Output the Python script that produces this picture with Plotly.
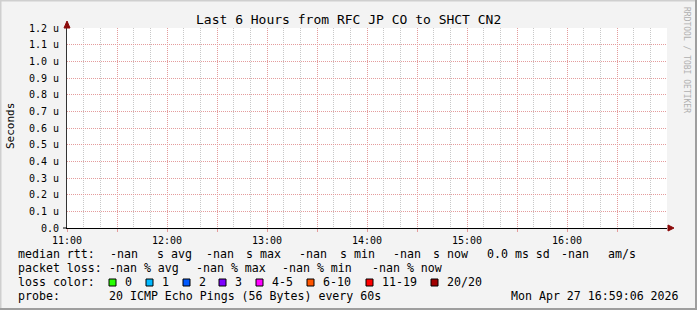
import plotly.graph_objects as go

W, H = 697, 310
L, R, T, B = 67, 30, 28, 82
PW, PH = W - L - R, H - T - B
MONO = "DejaVu Sans Mono"

# ---- data ----
times = ["2026-04-27 11:00:00", "2026-04-27 12:00:00", "2026-04-27 13:00:00",
         "2026-04-27 14:00:00", "2026-04-27 15:00:00", "2026-04-27 16:00:00",
         "2026-04-27 17:00:00"]
median_rtt = [None, None, None, None, None, None, None]
x_range = ["2026-04-27 11:00:00", "2026-04-27 17:00:00"]
x_tick_vals = ["2026-04-27 11:00", "2026-04-27 11:30", "2026-04-27 12:00",
               "2026-04-27 12:30", "2026-04-27 13:00", "2026-04-27 13:30",
               "2026-04-27 14:00", "2026-04-27 14:30", "2026-04-27 15:00",
               "2026-04-27 15:30", "2026-04-27 16:00", "2026-04-27 16:30"]
x_tick_labels = ["11:00", "", "12:00", "", "13:00", "", "14:00", "",
                 "15:00", "", "16:00", ""]
y_range = [0, 1.2e-6]
y_tick_vals = [0, 1e-7, 2e-7, 3e-7, 4e-7, 5e-7, 6e-7, 7e-7, 8e-7, 9e-7,
               1.0e-6, 1.1e-6, 1.2e-6]
y_tick_labels = ["0.0", "0.1 u", "0.2 u", "0.3 u", "0.4 u", "0.5 u", "0.6 u",
                 "0.7 u", "0.8 u", "0.9 u", "1.0 u", "1.1 u", "1.2 u"]
loss_labels = ["0", "1", "2", "3", "4-5", "6-10", "11-19", "20/20"]
loss_colors = ["#26ff00", "#00b8ff", "#0059ff", "#7e00ff", "#ff00ff",
               "#ff5500", "#ff0000", "#a00000"]
title_text = "Last 6 Hours from RFC JP CO to SHCT CN2"
rtt_line = [(16, "median rtt:"), (108, "-nan"), (155, "s avg"), (204, "-nan"),
            (244, "s max"), (297, "-nan"), (338, "s min"), (391, "-nan"),
            (431, "s now"), (485, "0.0 ms sd"), (559, "-nan"), (606, "am/s")]
loss_line = [(16, "packet loss:"), (107, "-nan % avg"), (194, "-nan % max"),
             (280, "-nan % min"), (370, "-nan % now")]
probe_text = "20 ICMP Echo Pings (56 Bytes) every 60s"
stamp_text = "Mon Apr 27 16:59:06 2026"
swatch_x = [109, 146, 183, 219, 256, 307, 366, 431]


def px(x):
    return (x - L) / PW


def py(y):
    return (T + PH - y) / PH


fig = go.Figure()
fig.add_trace(go.Scatter(x=times, y=median_rtt, mode="lines",
                         line=dict(color="#26ff00", width=1),
                         showlegend=False, hoverinfo="skip"))

MGRID = "#e49c9c"
GRID = "#c8c8c8"

fig.update_layout(
    width=W, height=H,
    margin=dict(l=L, r=R, t=T, b=B, pad=0),
    paper_bgcolor="#f3f3f3", plot_bgcolor="#ffffff",
    showlegend=False,
    font=dict(family=MONO, color="#000000", size=10),
    xaxis=dict(type="date", range=x_range, tickvals=x_tick_vals,
               ticktext=x_tick_labels, showgrid=True, gridcolor=MGRID,
               griddash="1px,1px", gridwidth=1, zeroline=False,
               showline=True, linecolor="#000000", linewidth=1,
               ticks="outside", ticklen=3, tickcolor=MGRID,
               tickfont=dict(family=MONO, size=10),
               minor=dict(dtick=600000, tick0="2026-04-27 11:00",
                          showgrid=True, gridcolor=GRID,
                          griddash="1px,1px", gridwidth=1)),
    yaxis=dict(range=y_range, tickvals=y_tick_vals, ticktext=y_tick_labels,
               showgrid=True, gridcolor=MGRID, griddash="1px,1px",
               gridwidth=1, zeroline=False, showline=True,
               linecolor="#333333", linewidth=1, ticks="outside",
               ticklen=5, tickcolor="rgba(0,0,0,0)",
               tickfont=dict(family=MONO, size=10)),
)

ann = []


def text(x, y, s, size=11.6, xanchor="left", color="#000000", angle=0):
    ann.append(dict(x=px(x), y=py(y), xref="paper", yref="paper", text=s,
                    showarrow=False, xanchor=xanchor, yanchor="middle",
                    textangle=angle,
                    font=dict(family=MONO, size=size, color=color)))


text(348.5, 19, title_text, size=13, xanchor="center")
text(10, 126, "Seconds", size=11, xanchor="center", angle=-90)
text(687, 60, "RRDTOOL / TOBI OETIKER", size=8, xanchor="center",
     color="#b0b0b0", angle=90)
for x, s in rtt_line:
    text(x, 254, s)
for x, s in loss_line:
    text(x, 268, s)
text(16, 282, "loss color:")
shapes = []
for xs, lab, col in zip(swatch_x, loss_labels, loss_colors):
    shapes.append(dict(type="rect", xref="paper", yref="paper",
                       x0=px(xs), x1=px(xs + 7), y0=py(279), y1=py(286),
                       fillcolor=col, line=dict(color="#000000", width=1)))
    text(xs + 14, 282, lab)
text(16, 296, "probe:")
text(107, 296, probe_text)
text(681, 296, stamp_text, xanchor="right")

# axis extension and arrows
ARROW = "#8b0a0a"
shapes.append(dict(type="line", xref="paper", yref="paper",
                   x0=px(63), x1=px(67), y0=0, y1=0,
                   line=dict(color="#000000", width=1)))
shapes.append(dict(type="path", xref="paper", yref="paper",
                   path=f"M {px(64)} {py(28)} L {px(70)} {py(28)} L {px(67)} {py(21)} Z",
                   fillcolor=ARROW, line=dict(color=ARROW, width=1)))
shapes.append(dict(type="path", xref="paper", yref="paper",
                   path=f"M {px(668)} {py(225)} L {px(668)} {py(231)} L {px(674)} {py(228)} Z",
                   fillcolor=ARROW, line=dict(color=ARROW, width=1)))
# bevel frame
shapes.append(dict(type="line", xref="paper", yref="paper",
                   x0=px(0), x1=px(W), y0=py(0.5), y1=py(0.5),
                   line=dict(color="#cfcfcf", width=2)))
shapes.append(dict(type="line", xref="paper", yref="paper",
                   x0=px(0.5), x1=px(0.5), y0=py(0), y1=py(H),
                   line=dict(color="#cfcfcf", width=2)))
shapes.append(dict(type="line", xref="paper", yref="paper",
                   x0=px(0), x1=px(W), y0=py(H - 1), y1=py(H - 1),
                   line=dict(color="#9e9e9e", width=2)))
shapes.append(dict(type="line", xref="paper", yref="paper",
                   x0=px(W - 1), x1=px(W - 1), y0=py(0), y1=py(H),
                   line=dict(color="#9e9e9e", width=2)))

fig.update_layout(annotations=ann, shapes=shapes)
fig.write_html("out.html")
